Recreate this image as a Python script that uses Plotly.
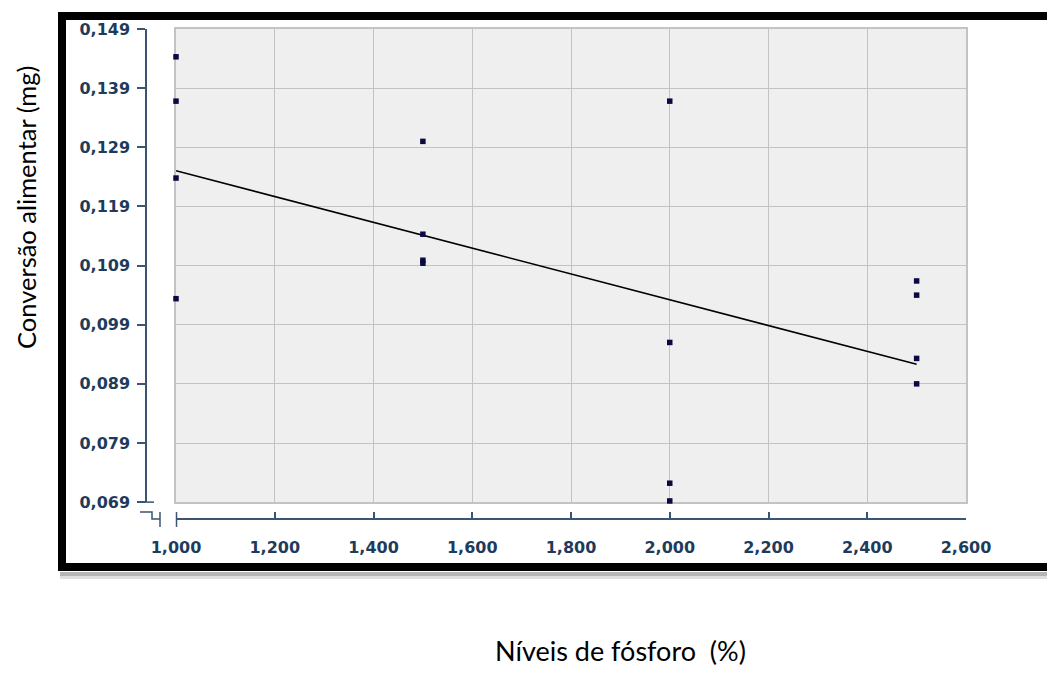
import numpy as np
import plotly.graph_objects as go

# ---- data ----
niveis = [1000, 1000, 1000, 1000,
          1500, 1500, 1500, 1500,
          2000, 2000, 2000, 2000,
          2500, 2500, 2500, 2500]
conversao = [0.1443, 0.1368, 0.1238, 0.1034,
             0.1300, 0.1143, 0.1099, 0.1094,
             0.1368, 0.0960, 0.0722, 0.0692,
             0.1064, 0.1040, 0.0933, 0.0890]
x_ticks = [1000, 1200, 1400, 1600, 1800, 2000, 2200, 2400, 2600]
x_labels = ["1,000", "1,200", "1,400", "1,600", "1,800", "2,000", "2,200", "2,400", "2,600"]
y_ticks = [0.069, 0.079, 0.089, 0.099, 0.109, 0.119, 0.129, 0.139, 0.149]
y_labels = ["0,069", "0,079", "0,089", "0,099", "0,109", "0,119", "0,129", "0,139", "0,149"]
x_title = "Níveis de fósforo  (%)"
y_title = "Conversão alimentar (mg)"

# ---- layout geometry (page pixels; page body has an 8px margin) ----
OFF = 8
W, H = 1055 - OFF, 673 - OFF
L = 146 - OFF
T = 25 - OFF
R = W - (966 - OFF)
B = H - (519 - OFF)
PW, PH = W - L - R, H - T - B


def px(x):
    return (x - OFF - L) / PW


def py(y):
    return 1 - (y - OFF - T) / PH


# regression line computed from the data
coef = np.polyfit(niveis, conversao, 1)
fit_x = [min(niveis), max(niveis)]
fit_y = list(np.polyval(coef, fit_x))

axis_col = "#3b5470"
tick_font = dict(family="DejaVu Sans", size=16, color="#1e3b5c", weight="bold")
grid_col = "#c3c3c3"

fig = go.Figure()
fig.add_trace(go.Scatter(x=fit_x, y=fit_y, mode="lines",
                         line=dict(color="black", width=1.6),
                         hoverinfo="skip", showlegend=False))
fig.add_trace(go.Scatter(x=niveis, y=conversao, mode="markers", cliponaxis=False,
                         marker=dict(symbol="square", size=5.5, color="#0a0a40"),
                         showlegend=False))
fig.add_trace(go.Scatter(x=[x_ticks[0]], y=[y_ticks[0]], xaxis="x2", yaxis="y2",
                         mode="markers", marker=dict(opacity=0),
                         hoverinfo="skip", showlegend=False))

x_dom = [px(176), 1]
y_dom = [py(502), 1]

fig.update_layout(
    width=W, height=H,
    margin=dict(l=L, r=R, t=T, b=B),
    paper_bgcolor="white",
    plot_bgcolor="#efefef",
    xaxis=dict(domain=x_dom, range=[1000, 2600], tickvals=x_ticks, showticklabels=False,
               showgrid=True, gridcolor=grid_col, gridwidth=1,
               showline=True, mirror=True, linecolor=grid_col, linewidth=1.5,
               zeroline=False, ticks="", layer="below traces"),
    yaxis=dict(domain=y_dom, range=[0.069, 0.149], tickvals=y_ticks, showticklabels=False,
               showgrid=True, gridcolor=grid_col, gridwidth=1,
               showline=True, mirror=True, linecolor=grid_col, linewidth=1.5,
               zeroline=False, ticks="", layer="below traces"),
    xaxis2=dict(overlaying="x", anchor="free", position=0, side="bottom",
                range=[1000, 2600], tickvals=x_ticks, ticktext=x_labels,
                showgrid=False, zeroline=False, showline=True, linecolor=axis_col, linewidth=1.5,
                ticks="inside", ticklen=6, tickcolor=axis_col, tickwidth=1.5,
                tickfont=tick_font, ticklabelstandoff=14),
    yaxis2=dict(overlaying="y", anchor="free", position=0, side="left",
                range=[0.069, 0.149], tickvals=y_ticks, ticktext=y_labels,
                showgrid=False, zeroline=False, showline=True, linecolor=axis_col, linewidth=1.5,
                ticks="outside", ticklen=8, tickcolor=axis_col, tickwidth=1.5,
                tickfont=tick_font, ticklabelstandoff=4),
)

shapes = []
# black frame with shadow
shapes.append(dict(type="line", xref="paper", yref="paper",
                   x0=px(60), x1=px(1070), y0=py(574.5), y1=py(574.5),
                   line=dict(color="#b5b5b5", width=4)))
shapes.append(dict(type="line", xref="paper", yref="paper",
                   x0=px(60), x1=px(1070), y0=py(578), y1=py(578),
                   line=dict(color="#dedede", width=3)))
shapes.append(dict(type="rect", xref="paper", yref="paper",
                   x0=px(62), x1=px(1070), y0=py(12), y1=py(567.5),
                   line=dict(color="black", width=8), fillcolor="rgba(0,0,0,0)"))
# axis break marks
brk = dict(color=axis_col, width=1.5)
shapes.append(dict(type="line", xref="paper", yref="paper",
                   x0=px(140), x1=px(154), y0=py(502), y1=py(502), line=brk))
shapes.append(dict(type="path", xref="paper", yref="paper",
                   path=f"M {px(140)},{py(512)} L {px(152)},{py(512)} L {px(152)},{py(519)} L {px(160)},{py(519)}",
                   line=brk))
shapes.append(dict(type="line", xref="paper", yref="paper",
                   x0=px(160), x1=px(160), y0=py(512), y1=py(527), line=brk))
shapes.append(dict(type="line", xref="paper", yref="paper",
                   x0=px(176.5), x1=px(176.5), y0=py(512), y1=py(527), line=brk))
fig.update_layout(shapes=shapes)

fig.add_annotation(text=x_title, xref="paper", yref="paper", x=px(620), y=py(652),
                   showarrow=False, font=dict(family="Lato", size=27, color="black"),
                   xanchor="center", yanchor="middle")
fig.add_annotation(text=y_title, xref="paper", yref="paper", x=px(25.5), y=py(205),
                   showarrow=False, font=dict(family="Lato", size=25.5, color="black"),
                   textangle=-90, xanchor="center", yanchor="middle")

fig.write_html("out.html")
